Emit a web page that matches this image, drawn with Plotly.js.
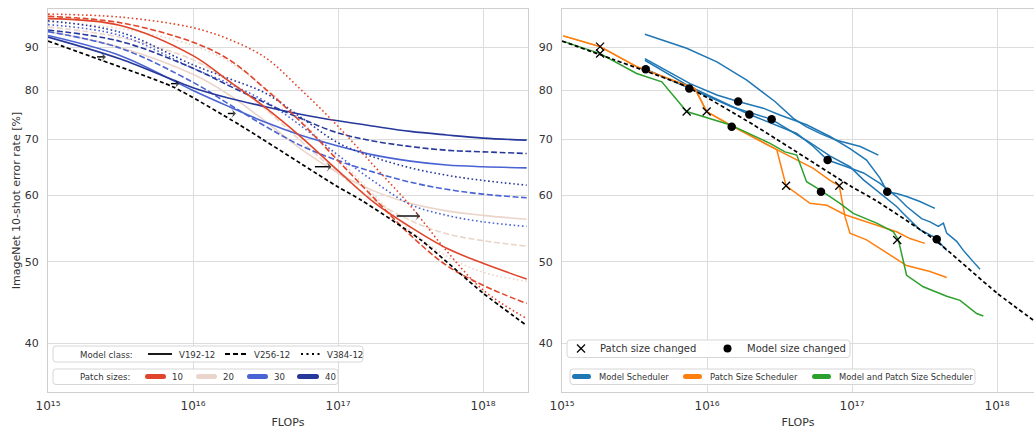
<!DOCTYPE html>
<html><head><meta charset="utf-8">
<script src="https://cdn.plot.ly/plotly-3.0.1.min.js"></script>
<style>html,body{margin:0;padding:0;background:#fff}#chart{width:1034px;height:429px}</style>
</head><body><div id="chart"></div>
<script>
// ================= DATA =================
// ---- Left panel: fitted scaling curves (FLOPs -> ImageNet 10-shot error %) ----
const flopsGrid = [1e15, 3.16e15, 1e16, 1.78e16, 3.16e16, 5.62e16, 1e17, 1.78e17, 3.16e17, 5.62e17, 1e18, 2e18];
const modelClasses = ['V192-12', 'V256-12', 'V384-12'];
const patchSizes = ['10', '20', '30', '40'];
const err_p10_v192 = [97.4, 95.6, 88.0, 82.0, 76.3, 70.3, 64.2, 58.8, 55.0, 51.9, 49.8, 47.7];
const err_p10_v256 = [98.0, 96.3, 91.3, 87.0, 80.3, 73.2, 66.0, 59.5, 53.8, 49.5, 46.9, 44.6];
const err_p10_v384 = [98.6, 97.8, 95.0, 92.0, 87.5, 80.0, 72.5, 65.0, 58.3, 51.5, 46.3, 42.8];
const err_p20_v192 = [94.0, 90.0, 83.6, 79.0, 73.5, 68.0, 63.8, 60.7, 58.7, 57.5, 56.8, 56.2];
const err_p20_v256 = [95.2, 92.5, 87.0, 82.0, 76.0, 69.5, 63.8, 59.2, 56.0, 54.0, 53.0, 52.2];
const err_p20_v384 = [96.5, 94.8, 90.5, 86.5, 80.5, 73.5, 66.5, 60.0, 54.5, 50.8, 48.6, 47.4];
const err_p30_v192 = [93.0, 88.0, 80.0, 76.5, 73.3, 70.7, 68.7, 67.0, 65.9, 65.2, 64.9, 64.7];
const err_p30_v256 = [94.0, 89.8, 81.8, 77.0, 72.5, 68.7, 66.0, 63.9, 62.2, 61.0, 60.2, 59.6];
const err_p30_v384 = [95.8, 93.0, 85.0, 81.5, 77.6, 72.5, 67.0, 62.3, 58.5, 56.8, 55.8, 55.1];
const err_p40_v192 = [92.6, 87.2, 80.6, 78.3, 76.5, 74.9, 73.6, 72.5, 71.5, 70.8, 70.2, 69.8];
const err_p40_v256 = [94.4, 91.5, 85.0, 81.0, 77.3, 74.0, 71.2, 69.6, 68.6, 67.9, 67.6, 67.3];
const err_p40_v384 = [96.8, 93.8, 85.8, 82.6, 79.4, 74.2, 69.3, 66.6, 64.7, 63.4, 62.5, 61.7];
// compute-optimal envelope (black dashed, both panels)
const envFlops = [1e15, 2.29e15, 7.24e15, 2.09e16, 1e17, 1.45e17, 3.72e17, 1e18, 2e18];
const envErr   = [91.6, 87.0, 80.8, 72.8, 61.4, 59.2, 53.1, 45.9, 42.0];
// arrows on the envelope
const arrowTail = [2.18e15, 7.05e15, 1.74e16, 6.93e16, 2.54e17];
const arrowHead = [2.51e15, 8.05e15, 1.98e16, 9.02e16, 3.68e17];
const arrowErr  = [87.7, 81.5, 75.1, 64.9, 56.7];

// ---- Right panel: schedulers ----
const msA_flops = [3.73e15, 7.24e15, 1.17e16, 1.88e16, 2.94e16, 3.94e16, 4.86e16, 6.01e16, 7.83e16, 9.68e16, 1.14e17, 1.52e17];
const msA_err   = [93.3, 89.8, 86.5, 82.3, 77.6, 74.1, 72.4, 71.1, 69.8, 69.2, 68.6, 67.0];
const msB_flops = [3.73e15, 7.64e15, 1.17e16, 1.64e16, 2.44e16, 3.18e16, 4.86e16, 7.05e16, 9.68e16, 1.26e17, 1.56e17, 1.75e17, 2.03e17, 2.38e17, 2.94e17, 3.73e17];
const msB_err   = [87.3, 81.5, 79.0, 77.6, 76.2, 74.8, 72.8, 70.5, 68.2, 66.1, 62.9, 60.6, 60.3, 59.8, 59.0, 57.9];
const msC_flops = [3.73e15, 7.64e15, 1.96e16, 2.82e16, 4.16e16, 5.41e16, 6.79e16, 9.18e16, 1.20e17, 1.56e17, 2.03e17, 2.38e17, 3.02e17, 3.45e17, 3.94e17, 4.27e17, 4.50e17, 5.27e17, 5.86e17, 6.87e17, 7.64e17];
const msC_err   = [86.9, 80.8, 74.9, 73.0, 71.1, 68.6, 66.1, 64.9, 63.8, 62.0, 59.8, 58.2, 56.3, 55.8, 55.1, 55.6, 54.1, 52.9, 51.6, 50.0, 49.0];
const msD_flops = [3.78e15, 7.55e15, 1.48e16, 2.79e16, 5.01e16, 7.08e16, 9.68e16, 1.20e17, 1.56e17, 2.03e17, 2.26e17, 2.94e17, 3.64e17, 3.84e17, 4.50e17];
const msD_err   = [84.8, 80.4, 76.5, 73.9, 69.5, 66.8, 64.9, 62.6, 60.3, 58.2, 57.1, 54.6, 53.6, 53.2, 51.6];
const psA_flops = [1.02e15, 1.83e15, 3.27e15, 4.74e15, 8.26e15, 9.95e15, 1.44e16, 3.03e16, 3.51e16, 5.13e16, 6.70e16, 8.95e16, 1.48e17, 2.03e17, 2.51e17, 3.18e17];
const psA_err   = [92.9, 90.2, 85.4, 83.4, 80.4, 75.5, 72.8, 68.0, 61.6, 58.7, 58.4, 56.9, 55.3, 54.3, 53.3, 52.6];
const psB_flops = [1.02e15, 1.83e15, 3.27e15, 4.74e15, 8.26e15, 9.95e15, 1.44e16, 3.03e16, 4.16e16, 5.41e16, 7.05e16, 8.17e16, 8.95e16, 9.68e16, 1.26e17, 1.64e17, 2.38e17, 3.45e17, 4.50e17];
const psB_err   = [92.9, 90.2, 85.4, 83.4, 80.4, 75.5, 72.8, 68.0, 66.1, 64.6, 62.5, 61.6, 56.6, 54.1, 53.1, 51.6, 49.5, 48.7, 47.9];
const mps_flops = [1.02e15, 1.83e15, 3.27e15, 4.88e15, 7.24e15, 1.44e16, 2.72e16, 3.45e16, 4.16e16, 4.86e16, 6.01e16, 8.26e16, 1.02e17, 1.20e17, 1.48e17, 1.93e17, 2.09e17, 2.38e17, 3.10e17, 4.50e17, 5.56e17, 7.24e17, 8.05e17];
const mps_err   = [91.5, 88.5, 83.8, 81.9, 75.5, 72.8, 69.2, 67.6, 67.0, 62.3, 60.9, 58.7, 57.1, 56.4, 55.6, 54.3, 53.1, 48.2, 46.7, 45.5, 45.0, 43.4, 43.1];
const patchChangeFlops = [1.83e15, 1.83e15, 7.24e15, 9.95e15, 3.51e16, 8.17e16, 2.05e17];
const patchChangeErr   = [90.2, 88.5, 75.5, 75.5, 61.6, 61.6, 53.1];
const modelChangeFlops = [3.78e15, 7.55e15, 1.64e16, 1.96e16, 2.79e16, 1.48e16, 6.79e16, 6.11e16, 1.75e17, 3.84e17];
const modelChangeErr   = [84.8, 80.4, 77.6, 74.9, 73.9, 72.4, 66.1, 60.6, 60.6, 53.2];
const xTickVals = [1e15, 1e16, 1e17, 1e18];
const xTickText = ['10¹⁵', '10¹⁶', '10¹⁷', '10¹⁸'];
const yTickVals = [40, 50, 60, 70, 80, 90];
const schedulerNames = ['Model Scheduler', 'Patch Size Scheduler', 'Model and Patch Size Scheduler'];

// ================= STYLE =================
const W = 1034, H = 429;
const FONT = 'DejaVu Sans, sans-serif';
const patchColors = {'10': '#e0452b', '20': '#ebd5ca', '30': '#4a63d4', '40': '#27389b'};
const classDash = {'V192-12': 'solid', 'V256-12': '6px,2.6px', 'V384-12': '1.6px,2.6px'};
const schedColors = ['#1f77b4', '#ff7f0e', '#2ca02c'];
const fx = p => p / W, fy = p => 1 - p / H;

const curveTable = {
  '10': [err_p10_v192, err_p10_v256, err_p10_v384],
  '20': [err_p20_v192, err_p20_v256, err_p20_v384],
  '30': [err_p30_v192, err_p30_v256, err_p30_v384],
  '40': [err_p40_v192, err_p40_v256, err_p40_v384]
};

const traces = [];
['20', '30', '40', '10'].forEach(ps => {
  modelClasses.forEach((mc, i) => {
    traces.push({x: flopsGrid, y: curveTable[ps][i], type: 'scatter', mode: 'lines',
      xaxis: 'x', yaxis: 'y', hoverinfo: 'skip',
      line: {color: patchColors[ps], width: 1.6, dash: classDash[mc], shape: 'spline', smoothing: 1}});
  });
});
traces.push({x: envFlops, y: envErr, type: 'scatter', mode: 'lines', xaxis: 'x', yaxis: 'y',
  line: {color: '#000', width: 1.7, dash: '4px,2.6px', shape: 'spline', smoothing: 0.6}});
arrowErr.forEach((e, i) => {
  traces.push({x: [arrowTail[i], arrowHead[i]], y: [e, e], type: 'scatter', mode: 'lines+markers',
    xaxis: 'x', yaxis: 'y', line: {color: '#000', width: 1.4},
    marker: {symbol: 'arrow-wide', size: [0, 7], angleref: 'previous', color: '#000', line: {width: 0}}});
});

// right panel
[[msA_flops, msA_err], [msB_flops, msB_err], [msC_flops, msC_err], [msD_flops, msD_err]].forEach(d => {
  traces.push({x: d[0], y: d[1], type: 'scatter', mode: 'lines', xaxis: 'x2', yaxis: 'y2',
    line: {color: schedColors[0], width: 1.5}});
});
[[psA_flops, psA_err], [psB_flops, psB_err]].forEach(d => {
  traces.push({x: d[0], y: d[1], type: 'scatter', mode: 'lines', xaxis: 'x2', yaxis: 'y2',
    line: {color: schedColors[1], width: 1.5}});
});
traces.push({x: mps_flops, y: mps_err, type: 'scatter', mode: 'lines', xaxis: 'x2', yaxis: 'y2',
  line: {color: schedColors[2], width: 1.5}});
traces.push({x: envFlops, y: envErr, type: 'scatter', mode: 'lines', xaxis: 'x2', yaxis: 'y2',
  line: {color: '#000', width: 1.7, dash: '4px,2.6px', shape: 'spline', smoothing: 0.6}});
traces.push({x: patchChangeFlops, y: patchChangeErr, type: 'scatter', mode: 'markers', xaxis: 'x2', yaxis: 'y2',
  marker: {symbol: 'x-thin', size: 8, line: {color: '#000', width: 1.3}, color: '#000'}});
traces.push({x: modelChangeFlops, y: modelChangeErr, type: 'scatter', mode: 'markers', xaxis: 'x2', yaxis: 'y2',
  marker: {symbol: 'circle', size: 8.5, color: '#000'}});

// ================= LAYOUT =================
const gridC = '#dcdcdc', spineC = '#cfcfcf', tickC = '#333333';
function xAx(dom, rng) {
  return {domain: dom, type: 'log', range: rng, tickvals: xTickVals, ticktext: xTickText,
    showgrid: true, gridcolor: gridC, gridwidth: 1, zeroline: false, showline: true, linecolor: spineC, linewidth: 1,
    mirror: true, ticks: '', tickfont: {family: FONT, size: 12, color: tickC}, ticklabelstandoff: 3,
    title: {text: 'FLOPs', font: {family: FONT, size: 11, color: tickC}, standoff: 5}};
}
function yAx(anchor, withTitle) {
  const a = {domain: [fy(392), fy(9)], type: 'log', range: [Math.log10(35), 2], tickvals: yTickVals,
    ticktext: yTickVals.map(String), anchor: anchor,
    showgrid: true, gridcolor: gridC, gridwidth: 1, zeroline: false, showline: true, linecolor: spineC, linewidth: 1,
    mirror: true, ticks: '', tickfont: {family: FONT, size: 11, color: tickC}, ticklabelstandoff: 6};
  if (withTitle) a.title = {text: 'ImageNet 10-shot error rate [%]', font: {family: FONT, size: 11, color: tickC}, standoff: 1};
  return a;
}

function rrect(x0, y0, x1, y1, r) {
  const rx = r / W, ry = r / H;
  const a = fx(x0), b = fx(x1), t = fy(y0), u = fy(y1);
  return `M${a + rx},${t} L${b - rx},${t} Q${b},${t} ${b},${t - ry} L${b},${u + ry} Q${b},${u} ${b - rx},${u} L${a + rx},${u} Q${a},${u} ${a},${u + ry} L${a},${t - ry} Q${a},${t} ${a + rx},${t} Z`;
}
const shapes = [], ann = [];
function box(x0, y0, x1, y1) {
  shapes.push({type: 'path', xref: 'paper', yref: 'paper', path: rrect(x0, y0, x1, y1, 3),
    fillcolor: 'rgba(255,255,255,0.9)', line: {color: '#d6d6d6', width: 1}});
}
function txt(x, y, s, size) {
  ann.push({xref: 'paper', yref: 'paper', x: fx(x), y: fy(y), text: s, showarrow: false,
    xanchor: 'left', yanchor: 'middle', font: {family: FONT, size: size, color: tickC}});
}
function thinLine(x0, x1, y, color, dash) {
  shapes.push({type: 'line', xref: 'paper', yref: 'paper', x0: fx(x0), x1: fx(x1), y0: fy(y), y1: fy(y),
    line: {color: color, width: 1.8, dash: dash}});
}
function thick(x0, x1, y, color) {
  shapes.push({type: 'path', xref: 'paper', yref: 'paper', path: rrect(x0, y - 2.5, x1, y + 2.5, 2.5),
    fillcolor: color, line: {width: 0}});
}

box(53, 346, 363, 362);
txt(78, 354.5, 'Model class:', 8.6);
const mcX = [[148, 172, 177], [225, 246, 252], [301, 321, 325]];
modelClasses.forEach((mc, i) => {
  thinLine(mcX[i][0], mcX[i][1], 354, '#000', mc === 'V192-12' ? 'solid' : (mc === 'V256-12' ? '5px,3px' : '2px,3.5px'));
  txt(mcX[i][2], 354.5, mc, 8.6);
});
box(53, 369, 338, 384.5);
txt(78, 377, 'Patch sizes:', 8.6);
const psX = [[145, 166, 170], [196, 217, 221], [247, 268, 272], [297, 319, 323]];
patchSizes.forEach((ps, i) => {
  thick(psX[i][0], psX[i][1], 376.5, patchColors[ps]);
  txt(psX[i][2], 377, ps, 8.6);
});
box(567, 340, 850, 357.5);
shapes.push({type: 'line', xref: 'paper', yref: 'paper', x0: fx(577), x1: fx(585), y0: fy(344.5), y1: fy(352.5), line: {color: '#000', width: 1.2}});
shapes.push({type: 'line', xref: 'paper', yref: 'paper', x0: fx(577), x1: fx(585), y0: fy(352.5), y1: fy(344.5), line: {color: '#000', width: 1.2}});
txt(598, 348.5, 'Patch size changed', 10);
shapes.push({type: 'circle', xref: 'paper', yref: 'paper', x0: fx(723.5), x1: fx(731.5), y0: fy(344.5), y1: fy(352.5), fillcolor: '#000', line: {color: '#000', width: 0}});
txt(745, 348.5, 'Model size changed', 10);
box(570, 369, 975, 384.5);
const scX = [[572, 591, 597], [683, 702, 708], [812, 831, 837]];
schedulerNames.forEach((n, i) => {
  thick(scX[i][0], scX[i][1], 376.5, schedColors[i]);
  txt(scX[i][2], 377, n, 8.4);
});

const layout = {
  width: W, height: H, margin: {l: 0, r: 0, t: 0, b: 0}, paper_bgcolor: '#fff', plot_bgcolor: '#fff',
  showlegend: false, font: {family: FONT, color: tickC},
  xaxis: Object.assign(xAx([fx(48), fx(528)], [15, 15 + 480 / 145]), {anchor: 'y'}),
  yaxis: yAx('x', true),
  xaxis2: Object.assign(xAx([fx(562), 1], [15, 15 + 472 / 145]), {anchor: 'y2'}),
  yaxis2: yAx('x2', false),
  shapes: shapes, annotations: ann
};
Plotly.newPlot('chart', traces, layout, {staticPlot: true, displayModeBar: false});
</script></body></html>
